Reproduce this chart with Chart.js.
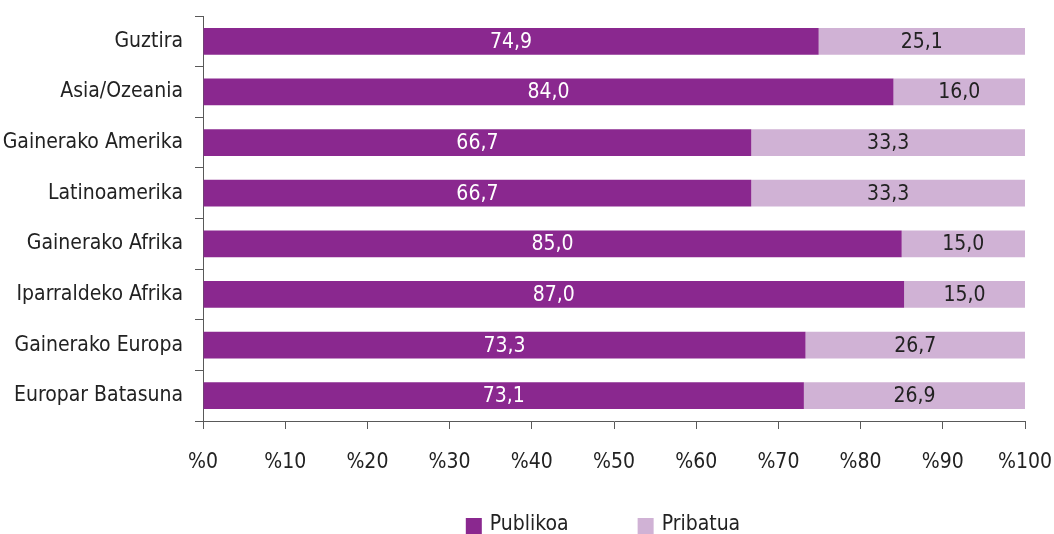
<!DOCTYPE html>
<html>
<head>
<meta charset="utf-8">
<script src="https://cdn.jsdelivr.net/npm/chart.js@4"></script>
<style>
  html, body { margin: 0; padding: 0; background: #fff; }
</style>
</head>
<body>
<canvas id="bar-chart" width="1054" height="534"></canvas>
<script>
const categories = [
    'Guztira',
    'Asia/Ozeania',
    'Gainerako Amerika',
    'Latinoamerika',
    'Gainerako Afrika',
    'Iparraldeko Afrika',
    'Gainerako Europa',
    'Europar Batasuna'
];

const publikoa = [74.9, 84.0, 66.7, 66.7, 85.0, 87.0, 73.3, 73.1];
const pribatua = [25.1, 16.0, 33.3, 33.3, 15.0, 15.0, 26.7, 26.9];

const xTickLabels = ['%0', '%10', '%20', '%30', '%40', '%50', '%60', '%70', '%80', '%90', '%100'];

const FONT = '"DejaVu Sans Condensed", "Liberation Sans Narrow", sans-serif';
const AXIS_COLOR = '#595959';
const TEXT_COLOR = '#222222';

// bars are 100% stacked, so each row is scaled to its own total
function share(values, i) {
    const total = publikoa[i] + pribatua[i];
    return values[i] / total * 100;
}

const datasets = [
    {
        label: 'Publikoa',
        raw: publikoa,
        data: publikoa.map((v, i) => share(publikoa, i)),
        backgroundColor: '#8a288f',
        textColor: '#ffffff'
    },
    {
        label: 'Pribatua',
        raw: pribatua,
        data: pribatua.map((v, i) => share(pribatua, i)),
        backgroundColor: '#d0b2d5',
        textColor: TEXT_COLOR
    }
];

const valueLabels = {
    id: 'valueLabels',
    afterDatasetsDraw(chart) {
        const ctx = chart.ctx;
        ctx.save();
        ctx.font = '21px ' + FONT;
        ctx.textAlign = 'center';
        ctx.textBaseline = 'middle';
        chart.data.datasets.forEach((ds, di) => {
            const meta = chart.getDatasetMeta(di);
            meta.data.forEach((bar, i) => {
                const x = (bar.x + bar.base) / 2;
                ctx.fillStyle = ds.textColor;
                ctx.fillText(ds.raw[i].toFixed(1).replace('.', ','), x, bar.y + 1);
            });
        });
        ctx.restore();
    }
};

// legend drawn by hand so the spacing follows the original
const bottomLegend = {
    id: 'bottomLegend',
    afterDraw(chart) {
        const ctx = chart.ctx;
        const area = chart.chartArea;
        const box = 16;
        const gap = 8;
        const spacing = 69;
        ctx.save();
        ctx.font = '21px ' + FONT;
        ctx.textBaseline = 'middle';
        const widths = chart.data.datasets.map(ds => box + gap + ctx.measureText(ds.label).width);
        const total = widths.reduce((a, b) => a + b, 0) + spacing * (widths.length - 1);
        let x = (area.left + area.right) / 2 - 11 - total / 2;
        const y = chart.height - 9;
        chart.data.datasets.forEach((ds, di) => {
            ctx.fillStyle = ds.backgroundColor;
            ctx.fillRect(x, y - box / 2 + 1, box, box);
            ctx.fillStyle = TEXT_COLOR;
            ctx.textAlign = 'left';
            ctx.fillText(ds.label, x + box + gap, y);
            x += widths[di] + spacing;
        });
        ctx.restore();
    }
};

const config = {
    type: 'bar',
    data: {
        labels: categories,
        datasets: datasets
    },
    options: {
        indexAxis: 'y',
        responsive: false,
        animation: false,
        layout: {
            padding: { top: 16, right: 29, bottom: 0, left: 0 }
        },
        datasets: {
            bar: {
                categoryPercentage: 1.0,
                barPercentage: 0.53,
                borderWidth: 0
            }
        },
        plugins: {
            legend: { display: false },
            tooltip: { enabled: false }
        },
        scales: {
            x: {
                stacked: true,
                min: 0,
                max: 100,
                afterFit: (scale) => {
                    scale.height = 113;
                    scale.paddingLeft = 0;
                    scale.paddingRight = 0;
                },
                ticks: {
                    stepSize: 10,
                    autoSkip: false,
                    maxRotation: 0,
                    padding: 21,
                    color: TEXT_COLOR,
                    font: { family: FONT, size: 21 },
                    callback: (value) => xTickLabels[value / 10]
                },
                grid: {
                    drawOnChartArea: false,
                    drawTicks: true,
                    tickLength: 8,
                    color: AXIS_COLOR
                },
                border: { display: true, color: AXIS_COLOR, width: 1 }
            },
            y: {
                stacked: true,
                afterFit: (scale) => {
                    scale.width = 203;
                    scale.paddingTop = 0;
                    scale.paddingBottom = 0;
                },
                ticks: {
                    padding: 12,
                    color: TEXT_COLOR,
                    font: { family: FONT, size: 21 }
                },
                grid: {
                    offset: true,
                    drawOnChartArea: false,
                    drawTicks: true,
                    tickLength: 8,
                    color: AXIS_COLOR
                },
                border: { display: true, color: AXIS_COLOR, width: 1 }
            }
        }
    },
    plugins: [valueLabels, bottomLegend]
};

const chart = new Chart(document.getElementById('bar-chart'), config);
</script>
</body>
</html>
